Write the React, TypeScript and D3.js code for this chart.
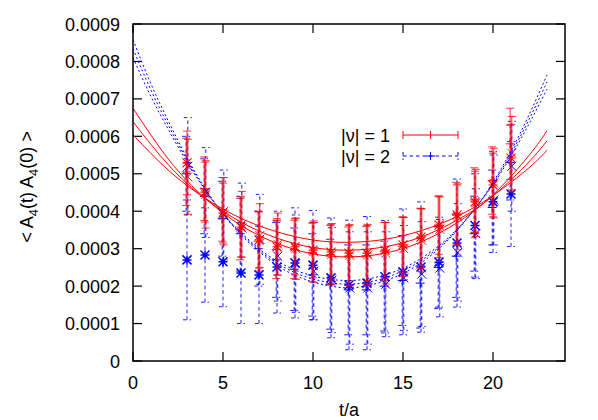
import React from "react";
import * as d3 from "d3";

// ---- data ----
const T_FIT_R = [0, 2, 4, 6, 8, 10, 12, 14, 16, 18, 20, 22, 23];
const FIT_R_HI = [0.000675, 0.000537, 0.000435, 0.000362, 0.000314, 0.000286, 0.000278, 0.000288, 0.000318, 0.000369, 0.000444, 0.000549, 0.000615];
const FIT_R_MID = [0.000639, 0.000522, 0.000434, 0.000371, 0.000328, 0.000303, 0.000296, 0.000305, 0.000331, 0.000376, 0.000441, 0.000532, 0.000588];
const FIT_R_LO = [0.000604, 0.000508, 0.000435, 0.000381, 0.000345, 0.000323, 0.000317, 0.000325, 0.000348, 0.000386, 0.000442, 0.000516, 0.000563];

const T_FIT_B = [0, 1, 2, 3, 4, 5, 6, 7, 8, 9, 10, 11, 12, 13, 14, 15, 16, 17, 18, 19, 20, 21, 22, 23];
const FIT_B_HI = [0.000858, 0.00074, 0.000637, 0.000543, 0.000461, 0.000393, 0.000337, 0.000292, 0.000255, 0.000229, 0.000211, 0.0002, 0.000195, 0.000201, 0.000214, 0.000234, 0.000262, 0.0003, 0.000348, 0.000407, 0.000477, 0.000561, 0.000657, 0.000764];
const FIT_B_MID = [0.000834, 0.000723, 0.000626, 0.000537, 0.000459, 0.000393, 0.00034, 0.000296, 0.000261, 0.000236, 0.000219, 0.000209, 0.000205, 0.00021, 0.000222, 0.000241, 0.000268, 0.000304, 0.00035, 0.000407, 0.000474, 0.000554, 0.000645, 0.000745];
const FIT_B_LO = [0.00081, 0.000706, 0.000615, 0.000531, 0.000457, 0.000393, 0.000343, 0.0003, 0.000267, 0.000243, 0.000227, 0.000218, 0.000215, 0.000219, 0.00023, 0.000248, 0.000274, 0.000308, 0.000352, 0.000407, 0.000471, 0.000547, 0.000633, 0.000726];

const T_DATA = [3, 4, 5, 6, 7, 8, 9, 10, 11, 12, 13, 14, 15, 16, 17, 18, 19, 20, 21];

const RED_STAR = [0.000529, 0.000451, 0.000395, 0.000358, 0.000323, 0.000305, 0.000305, 0.000296, 0.000291, 0.000288, 0.000288, 0.000296, 0.00031, 0.000331, 0.000363, 0.00039, 0.000425, 0.00047, 0.000542];
const RED_STAR_ERR = [0.000085, 0.00008, 0.00008, 0.00008, 0.000075, 0.000075, 0.000075, 0.000074, 0.000074, 0.000074, 0.000074, 0.000074, 0.000075, 0.000076, 0.000078, 0.00008, 0.000082, 0.000085, 0.00009];
const RED_X = [0.000492, 0.000445, 0.0004, 0.000365, 0.000335, 0.000312, 0.0003, 0.000292, 0.000285, 0.000282, 0.000283, 0.000288, 0.0003, 0.000322, 0.000352, 0.000385, 0.000422, 0.000475, 0.000555];
const RED_X_ERR = [0.0001, 0.00009, 0.00009, 0.000088, 0.000085, 0.000083, 0.000082, 0.000082, 0.000082, 0.000082, 0.000082, 0.000082, 0.000083, 0.000084, 0.000086, 0.000088, 0.00009, 0.000093, 0.000098];
const RED_PLUS = [0.000505, 0.00046, 0.000405, 0.000352, 0.00032, 0.000298, 0.000298, 0.00029, 0.000284, 0.00028, 0.000281, 0.000292, 0.000305, 0.000328, 0.000358, 0.000393, 0.00043, 0.000482, 0.00058];
const RED_PLUS_ERR = [0.00009, 0.000085, 0.000085, 0.000082, 0.00008, 0.000078, 0.000078, 0.000078, 0.000078, 0.000078, 0.000078, 0.000078, 0.000079, 0.00008, 0.000082, 0.000084, 0.000086, 0.00009, 0.000095];

const BLUE_STAR = [0.00027, 0.000283, 0.000265, 0.000235, 0.00023, 0.000251, 0.000262, 0.000256, 0.000222, 0.000203, 0.000208, 0.000225, 0.000238, 0.000251, 0.000264, 0.000315, 0.000362, 0.000425, 0.000446];
const BLUE_STAR_ERR = [0.00016, 0.000126, 0.00012, 0.000135, 0.00013, 0.000123, 0.000147, 0.000146, 0.00016, 0.000173, 0.000178, 0.00015, 0.000168, 0.000174, 0.00012, 0.000171, 0.000138, 0.000135, 0.00014];
const BLUE_X = [0.00052, 0.00045, 0.00039, 0.000355, 0.000325, 0.00028, 0.00026, 0.00024, 0.000216, 0.000195, 0.000195, 0.000205, 0.000222, 0.000232, 0.000248, 0.00029, 0.00034, 0.00043, 0.00052];
const BLUE_X_ERR = [0.00013, 0.00012, 0.00012, 0.00012, 0.00012, 0.00012, 0.00013, 0.00013, 0.00014, 0.00015, 0.00015, 0.00014, 0.00014, 0.00014, 0.00013, 0.00013, 0.00012, 0.00012, 0.00012];
const BLUE_PLUS = [0.0005, 0.00044, 0.00038, 0.00034, 0.0003, 0.00027, 0.000245, 0.00023, 0.000205, 0.00019, 0.00019, 0.0002, 0.000215, 0.000208, 0.00025, 0.00028, 0.00034, 0.00041, 0.00053];
const BLUE_PLUS_ERR = [0.0001, 0.0001, 0.0001, 0.0001, 0.0001, 0.0001, 0.00011, 0.00011, 0.00012, 0.00012, 0.00012, 0.00012, 0.00012, 0.00012, 0.00011, 0.00011, 0.0001, 0.0001, 0.0001];

const X_TICKS = [0, 5, 10, 15, 20];
const Y_TICKS = [0, 0.0001, 0.0002, 0.0003, 0.0004, 0.0005, 0.0006, 0.0007, 0.0008, 0.0009];
const Y_TICK_LABELS = ["0", "0.0001", "0.0002", "0.0003", "0.0004", "0.0005", "0.0006", "0.0007", "0.0008", "0.0009"];
const LEGEND = ["|\u03bd| = 1", "|\u03bd| = 2"];

// ---- layout ----
const W = 598, H = 420;
const L = 133, R = 565, TOP = 24, B = 361;
const RED = "#ff0000", BLUE = "#0000ff";
const FONT = "'Liberation Sans', Arial, Helvetica, sans-serif";
const FS = 18;

const x = d3.scaleLinear().domain([0, 24]).range([L, R]);
const y = d3.scaleLinear().domain([0, 0.0009]).range([B, TOP]);

function markerPath(type: string, cx: number, cy: number, s = 4.5) {
  const p = d3.path();
  if (type === "plus" || type === "star") {
    p.moveTo(cx - s, cy); p.lineTo(cx + s, cy);
    p.moveTo(cx, cy - s); p.lineTo(cx, cy + s);
  }
  if (type === "x" || type === "star") {
    p.moveTo(cx - s, cy - s); p.lineTo(cx + s, cy + s);
    p.moveTo(cx - s, cy + s); p.lineTo(cx + s, cy - s);
  }
  return p.toString();
}

function errPath(cx: number, v: number, e: number, cap = 4) {
  const p = d3.path();
  const y1 = y(v - e), y2 = y(v + e);
  p.moveTo(cx, y1); p.lineTo(cx, y2);
  p.moveTo(cx - cap, y1); p.lineTo(cx + cap, y1);
  p.moveTo(cx - cap, y2); p.lineTo(cx + cap, y2);
  return p.toString();
}

function Series({ vals, errs, type, color, dash, dx, sw, msw }: any) {
  return (
    <g stroke={color} fill="none">
      {T_DATA.map((t, i) => (
        <path key={"e" + i} d={errPath(x(t) + dx, vals[i], errs[i])} strokeDasharray={dash} strokeWidth={sw} />
      ))}
      {T_DATA.map((t, i) => (
        <path key={"m" + i} d={markerPath(type, x(t) + dx, y(vals[i]))} strokeWidth={msw} />
      ))}
    </g>
  );
}

export default function App() {
  const fitR = d3.line<number>().x((_, i) => x(T_FIT_R[i])).y((v) => y(v)).curve(d3.curveNatural);
  const fitB = d3.line<number>().x((_, i) => x(T_FIT_B[i])).y((v) => y(v)).curve(d3.curveNatural);

  return (
    <svg width={W} height={H} style={{ display: "block", position: "absolute", left: 0, top: 0 }} fontFamily={FONT}>
      <rect width={W} height={H} fill="#fff" />
      <defs>
        <clipPath id="plot"><rect x={L} y={TOP} width={R - L} height={B - TOP} /></clipPath>
      </defs>

      {/* ticks */}
      <g stroke="#000" strokeWidth={1.2}>
        {X_TICKS.map((t) => (
          <g key={"xt" + t}>
            <line x1={x(t)} x2={x(t)} y1={B} y2={B - 9} />
            <line x1={x(t)} x2={x(t)} y1={TOP} y2={TOP + 9} />
          </g>
        ))}
        {Y_TICKS.map((v) => (
          <g key={"yt" + v}>
            <line x1={L} x2={L + 9} y1={y(v)} y2={y(v)} />
            <line x1={R} x2={R - 9} y1={y(v)} y2={y(v)} />
          </g>
        ))}
      </g>

      <g clipPath="url(#plot)">
        {/* blue data */}
        <Series vals={BLUE_PLUS} errs={BLUE_PLUS_ERR} type="plus" color={BLUE} dash="3.5,3" dx={-0.8} sw={0.9} msw={1} />
        <Series vals={BLUE_X} errs={BLUE_X_ERR} type="x" color={BLUE} dash="3.5,3" dx={0.8} sw={0.9} msw={1} />
        <Series vals={BLUE_STAR} errs={BLUE_STAR_ERR} type="star" color={BLUE} dash="3.5,3" dx={0} sw={0.9} msw={1.5} />
        {/* red data */}
        <Series vals={RED_PLUS} errs={RED_PLUS_ERR} type="plus" color={RED} dash="none" dx={-0.8} sw={0.8} msw={0.9} />
        <Series vals={RED_X} errs={RED_X_ERR} type="x" color={RED} dash="none" dx={0.8} sw={0.8} msw={0.9} />
        <Series vals={RED_STAR} errs={RED_STAR_ERR} type="star" color={RED} dash="none" dx={0} sw={0.8} msw={1.1} />
        {/* fits */}
        {[FIT_B_HI, FIT_B_MID, FIT_B_LO].map((f, i) => (
          <path key={"fb" + i} d={fitB(f) || ""} fill="none" stroke={BLUE} strokeWidth={1} strokeDasharray="2,2.5" />
        ))}
        {[FIT_R_HI, FIT_R_MID, FIT_R_LO].map((f, i) => (
          <path key={"fr" + i} d={fitR(f) || ""} fill="none" stroke={RED} strokeWidth={1} />
        ))}
      </g>

      {/* frame */}
      <rect x={L} y={TOP} width={R - L} height={B - TOP} fill="none" stroke="#000" strokeWidth={1.5} />

      {/* tick labels */}
      <g fontSize={FS} fill="#000">
        {X_TICKS.map((t) => (
          <text key={"xl" + t} x={x(t)} y={389} textAnchor="middle">{t}</text>
        ))}
        {Y_TICKS.map((v, i) => (
          <text key={"yl" + i} x={120} y={y(v) + 6.5} textAnchor="end">{Y_TICK_LABELS[i]}</text>
        ))}
      </g>

      {/* axis titles */}
      <text x={349} y={416} textAnchor="middle" fontSize={FS}>t/a</text>
      <text transform="translate(33,187) rotate(-90)" textAnchor="middle" fontSize={FS}>
        {"< A"}<tspan fontSize={13} dy={5}>4</tspan><tspan dy={-5}>{"(t) A"}</tspan><tspan fontSize={13} dy={5}>4</tspan><tspan dy={-5}>{"(0) >"}</tspan>
      </text>

      {/* legend */}
      <g fontSize={FS}>
        <text x={390} y={141.5} textAnchor="end">{LEGEND[0]}</text>
        <text x={390} y={162.5} textAnchor="end">{LEGEND[1]}</text>
        <g stroke={RED} strokeWidth={1}>
          <line x1={403} x2={458} y1={135} y2={135} />
          <line x1={403} x2={403} y1={131} y2={139} />
          <line x1={458} x2={458} y1={131} y2={139} />
          <line x1={430.5} x2={430.5} y1={131} y2={139} />
        </g>
        <g stroke={BLUE} strokeWidth={1} strokeDasharray="3.5,3">
          <line x1={403} x2={458} y1={156} y2={156} />
          <line x1={403} x2={403} y1={152} y2={160} />
          <line x1={458} x2={458} y1={152} y2={160} />
          <line x1={430.5} x2={430.5} y1={152} y2={160} strokeDasharray="none" />
          <line x1={426} x2={435} y1={156} y2={156} strokeDasharray="none" />
        </g>
      </g>
    </svg>
  );
}
